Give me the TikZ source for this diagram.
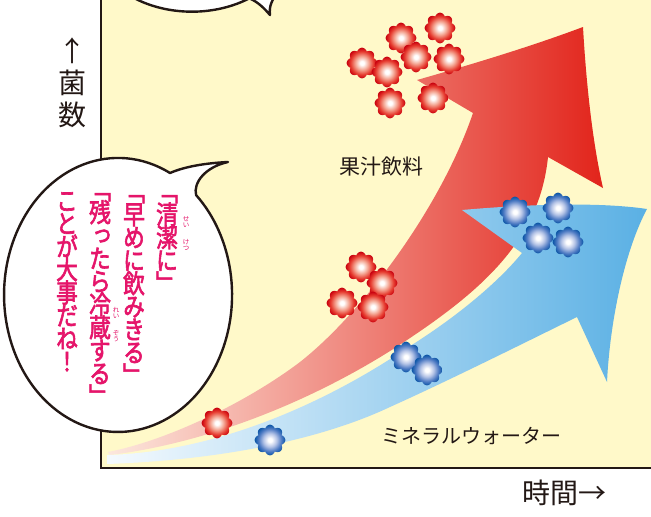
\documentclass[tikz,border=0pt]{standalone}
\usepackage{fontspec}
\usetikzlibrary{positioning}
\newfontfamily\jpfont{Noto Sans CJK JP}
\newfontfamily\jpvertfont[RawFeature=+vert, FakeBold=2.5]{Noto Sans CJK JP}
% stacked lines keep their baselines
\lineskiplimit=-40pt

\definecolor{chartyellow}{HTML}{FFF9C9}
\definecolor{axisblack}{HTML}{231815}
\definecolor{talkpink}{HTML}{E5156A}
\definecolor{juicelight}{HTML}{FCE8DE}
\definecolor{juicemid}{HTML}{EF8A63}
\definecolor{juicedark}{HTML}{E2241B}
\definecolor{waterlight}{HTML}{F5FAFE}
\definecolor{watermid}{HTML}{B0D8F2}
\definecolor{waterdark}{HTML}{5AB0E4}
\definecolor{germredlt}{HTML}{F4A592}
\definecolor{germred}{HTML}{E63A2E}
\definecolor{germreddk}{HTML}{C8000E}
\definecolor{germbluelt}{HTML}{B4C3E6}
\definecolor{germblue}{HTML}{4A78C2}
\definecolor{germbluedk}{HTML}{0A55A6}

% shaded germs, white core
\pgfdeclareradialshading{germred}{\pgfpointorigin}{%
  color(0bp)=(white); color(3bp)=(white); color(11bp)=(germredlt);
  color(19bp)=(germred); color(25bp)=(germreddk); color(50bp)=(germreddk)}
\pgfdeclareradialshading{germblue}{\pgfpointorigin}{%
  color(0bp)=(white); color(3bp)=(white); color(11bp)=(germbluelt);
  color(19bp)=(germblue); color(25bp)=(germbluedk); color(50bp)=(germbluedk)}

\newcommand\talkfont{\jpvertfont\fontsize{26pt}{23pt}\selectfont}
\newcommand\rubyfont{\jpfont\fontsize{6.5pt}{6.5pt}\selectfont}

\tikzset{
  axisline/.style={draw=axisblack, line width=2.6pt},
  balloon/.style={fill=white, draw=axisblack, line width=2.4pt, line join=round},
  chartlabel/.style={font=\jpfont\fontsize{21pt}{24pt}\selectfont, text=axisblack, inner sep=0pt},
  axislabel/.style={font=\jpfont\fontsize{28pt}{32pt}\selectfont,
    text=axisblack, inner sep=0pt, align=center},
  talk/.style={font=\talkfont, text=talkpink, align=center, inner sep=0pt,
    anchor=north, xscale=0.84, transform shape},
  ruby/.style={font=\rubyfont, text=talkpink, align=center, inner sep=0pt},
  pics/germ/.style={code={
    \shade[shading=#1] plot[domain=0:360, samples=145, variable=\t]
      (\t:{12.5+2.8*abs(cos(4*\t))}) -- cycle;
  }},
}

\begin{document}
\begin{tikzpicture}[x=1pt, y=-1pt]
\useasboundingbox (0,0) rectangle (651,517);
\fill[white] (0,0) rectangle (651,517);

% plot area and axes
\fill[chartyellow] (101,0) rectangle (651,468);
\draw[axisline] (101,0) -- (101,468) -- (651,468);

% juice: red arrow
\shade[left color=juicelight, middle color=juicemid, right color=juicedark]
  (108,452) .. controls (170,440) and (250,400) .. (300,362)
  .. controls (360,315) and (440,210) .. (473,113) -- (417,80)
  .. controls (480,62) and (535,45) .. (583,27)
  .. controls (586,80) and (592,140) .. (603,188) -- (548,157)
  .. controls (540,235) and (490,285) .. (407,340)
  .. controls (340,385) and (230,440) .. (110,455) -- cycle;

% water: blue arrow
\shade[left color=waterlight, middle color=watermid, right color=waterdark]
  (107,455) .. controls (220,452) and (330,400) .. (407,348)
  .. controls (460,315) and (500,280) .. (522,253) -- (462,210)
  .. controls (530,204) and (600,202) .. (647,209)
  .. controls (625,250) and (610,320) .. (607,382) -- (577,317)
  .. controls (530,340) and (450,380) .. (390,407)
  .. controls (320,440) and (220,460) .. (107,464) -- cycle;

\node[chartlabel] (juice) at (381,167) {果汁飲料};
\node[chartlabel, font=\jpfont\fontsize{20pt}{24pt}\selectfont] (water) at (471,436) {ミネラルウォーター};
\node[axislabel] (timelabel) at (564,493) {時間→};
\node[axislabel, anchor=north] (countlabel) at (72,38) {↑\\菌\\数};

% germs
\foreach \pos in {(440,28),(401,38),(362,63),(387,72),(416,57),(449,59),(390,103),(433,98),
                  (361,267),(342,303),(382,283),(373,307),(217,423)}
  \pic at \pos {germ=germred};
\foreach \pos in {(515,212),(558,208),(538,238),(568,242),(406,357),(427,370),(270,440)}
  \pic at \pos {germ=germblue};

% speech balloons
\begin{scope}
  \clip (0,0) rectangle (651,517);
  \path[balloon] (98,-37) arc[start angle=160, end angle=55, x radius=100, y radius=74]
    .. controls (258,2) and (264,8) .. (270,15)
    .. controls (269,7) and (271,0) .. (280,-10) -- (290,-60) -- (90,-60) -- cycle;
\end{scope}
\path[balloon] (170,173) arc[start angle=-62.9, end angle=-406.8, x radius=114, y radius=137]
  .. controls (193,183) and (205,167) .. (228,162)
  .. controls (208,163) and (186,166) .. (170,173) -- cycle;

% vertical lines of the balloon, right to left
\node[talk] (line1) at (167,195) {﹁\\清\\潔\\に\\﹂};
\node[talk] (line2) at (134,195) {﹁\\早\\め\\に\\飲\\み\\き\\る\\﹂};
\node[talk] (line3) at (100,193) {﹁\\残\\っ\\た\\ら\\冷\\蔵\\す\\る\\﹂};
\node[talk] (line4) at (67,192) {こ\\と\\が\\大\\事\\だ\\ね\\！};
\node[ruby] (rubysei) at (186,222) {せ\\い};
\node[ruby] (rubyketsu) at (186,245) {け\\つ};
\node[ruby] (rubyrei) at (116,313) {れ\\い};
\node[ruby] (rubyzou) at (116,336) {ぞ\\う};
\end{tikzpicture}
\end{document}
